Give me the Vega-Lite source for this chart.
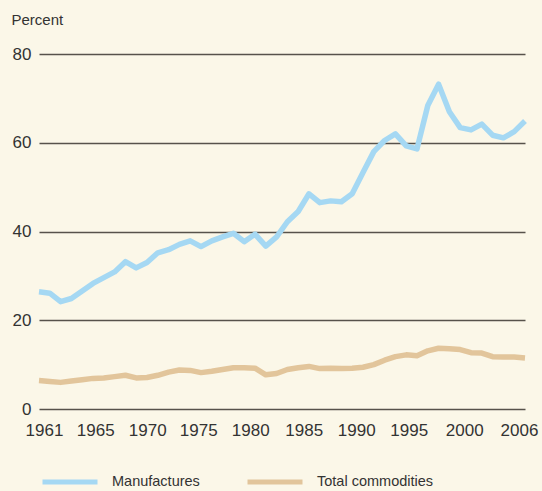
{
  "$schema": "https://vega.github.io/schema/vega-lite/v6.json",
  "width": 486,
  "height": 355,
  "autosize": {"type": "none"},
  "padding": {"left": 39, "top": 54, "right": 17, "bottom": 82},
  "background": "#FBF7E8",
  "config": {
    "view": {"stroke": null},
    "font": "Liberation Sans, sans-serif"
  },
  "data": {
    "values": [
      {"year": 1961, "series": "Manufactures", "value": 26.4},
      {"year": 1962, "series": "Manufactures", "value": 26.1},
      {"year": 1963, "series": "Manufactures", "value": 24.2},
      {"year": 1964, "series": "Manufactures", "value": 24.9},
      {"year": 1965, "series": "Manufactures", "value": 26.6},
      {"year": 1966, "series": "Manufactures", "value": 28.3},
      {"year": 1967, "series": "Manufactures", "value": 29.6},
      {"year": 1968, "series": "Manufactures", "value": 30.9},
      {"year": 1969, "series": "Manufactures", "value": 33.2},
      {"year": 1970, "series": "Manufactures", "value": 31.8},
      {"year": 1971, "series": "Manufactures", "value": 33.0},
      {"year": 1972, "series": "Manufactures", "value": 35.2},
      {"year": 1973, "series": "Manufactures", "value": 35.9},
      {"year": 1974, "series": "Manufactures", "value": 37.1},
      {"year": 1975, "series": "Manufactures", "value": 37.9},
      {"year": 1976, "series": "Manufactures", "value": 36.6},
      {"year": 1977, "series": "Manufactures", "value": 37.9},
      {"year": 1978, "series": "Manufactures", "value": 38.8},
      {"year": 1979, "series": "Manufactures", "value": 39.6},
      {"year": 1980, "series": "Manufactures", "value": 37.7},
      {"year": 1981, "series": "Manufactures", "value": 39.4},
      {"year": 1982, "series": "Manufactures", "value": 36.7},
      {"year": 1983, "series": "Manufactures", "value": 38.8},
      {"year": 1984, "series": "Manufactures", "value": 42.2},
      {"year": 1985, "series": "Manufactures", "value": 44.5},
      {"year": 1986, "series": "Manufactures", "value": 48.5},
      {"year": 1987, "series": "Manufactures", "value": 46.5},
      {"year": 1988, "series": "Manufactures", "value": 46.9},
      {"year": 1989, "series": "Manufactures", "value": 46.7},
      {"year": 1990, "series": "Manufactures", "value": 48.5},
      {"year": 1991, "series": "Manufactures", "value": 53.3},
      {"year": 1992, "series": "Manufactures", "value": 58.0},
      {"year": 1993, "series": "Manufactures", "value": 60.5},
      {"year": 1994, "series": "Manufactures", "value": 62.0},
      {"year": 1995, "series": "Manufactures", "value": 59.3},
      {"year": 1996, "series": "Manufactures", "value": 58.6},
      {"year": 1997, "series": "Manufactures", "value": 68.4},
      {"year": 1998, "series": "Manufactures", "value": 73.2},
      {"year": 1999, "series": "Manufactures", "value": 67.0},
      {"year": 2000, "series": "Manufactures", "value": 63.4},
      {"year": 2001, "series": "Manufactures", "value": 62.9},
      {"year": 2002, "series": "Manufactures", "value": 64.2},
      {"year": 2003, "series": "Manufactures", "value": 61.7},
      {"year": 2004, "series": "Manufactures", "value": 61.1},
      {"year": 2005, "series": "Manufactures", "value": 62.5},
      {"year": 2006, "series": "Manufactures", "value": 64.9},
      {"year": 1961, "series": "Total commodities", "value": 6.4},
      {"year": 1962, "series": "Total commodities", "value": 6.2},
      {"year": 1963, "series": "Total commodities", "value": 6.0},
      {"year": 1964, "series": "Total commodities", "value": 6.3},
      {"year": 1965, "series": "Total commodities", "value": 6.6},
      {"year": 1966, "series": "Total commodities", "value": 6.9},
      {"year": 1967, "series": "Total commodities", "value": 7.0},
      {"year": 1968, "series": "Total commodities", "value": 7.3},
      {"year": 1969, "series": "Total commodities", "value": 7.6},
      {"year": 1970, "series": "Total commodities", "value": 7.0},
      {"year": 1971, "series": "Total commodities", "value": 7.1},
      {"year": 1972, "series": "Total commodities", "value": 7.6},
      {"year": 1973, "series": "Total commodities", "value": 8.3},
      {"year": 1974, "series": "Total commodities", "value": 8.8},
      {"year": 1975, "series": "Total commodities", "value": 8.7},
      {"year": 1976, "series": "Total commodities", "value": 8.2},
      {"year": 1977, "series": "Total commodities", "value": 8.5},
      {"year": 1978, "series": "Total commodities", "value": 8.9},
      {"year": 1979, "series": "Total commodities", "value": 9.3},
      {"year": 1980, "series": "Total commodities", "value": 9.3},
      {"year": 1981, "series": "Total commodities", "value": 9.2},
      {"year": 1982, "series": "Total commodities", "value": 7.7},
      {"year": 1983, "series": "Total commodities", "value": 8.0},
      {"year": 1984, "series": "Total commodities", "value": 8.9},
      {"year": 1985, "series": "Total commodities", "value": 9.3},
      {"year": 1986, "series": "Total commodities", "value": 9.6},
      {"year": 1987, "series": "Total commodities", "value": 9.1},
      {"year": 1988, "series": "Total commodities", "value": 9.2},
      {"year": 1989, "series": "Total commodities", "value": 9.1},
      {"year": 1990, "series": "Total commodities", "value": 9.2},
      {"year": 1991, "series": "Total commodities", "value": 9.4},
      {"year": 1992, "series": "Total commodities", "value": 10.0},
      {"year": 1993, "series": "Total commodities", "value": 11.0},
      {"year": 1994, "series": "Total commodities", "value": 11.8},
      {"year": 1995, "series": "Total commodities", "value": 12.2},
      {"year": 1996, "series": "Total commodities", "value": 12.0},
      {"year": 1997, "series": "Total commodities", "value": 13.1},
      {"year": 1998, "series": "Total commodities", "value": 13.7},
      {"year": 1999, "series": "Total commodities", "value": 13.6},
      {"year": 2000, "series": "Total commodities", "value": 13.4},
      {"year": 2001, "series": "Total commodities", "value": 12.7},
      {"year": 2002, "series": "Total commodities", "value": 12.6},
      {"year": 2003, "series": "Total commodities", "value": 11.8},
      {"year": 2004, "series": "Total commodities", "value": 11.7},
      {"year": 2005, "series": "Total commodities", "value": 11.7},
      {"year": 2006, "series": "Total commodities", "value": 11.5}
    ]
  },
  "mark": {"type": "line", "strokeWidth": 5.5, "strokeJoin": "round", "strokeCap": "butt"},
  "encoding": {
    "x": {
      "field": "year",
      "type": "quantitative",
      "scale": {"domain": [1961, 2006], "nice": false, "zero": false},
      "axis": {
        "title": null,
        "values": [1961, 1965, 1970, 1975, 1980, 1985, 1990, 1995, 2000, 2006],
        "format": "d",
        "grid": false,
        "domain": false,
        "ticks": false,
        "labelFontSize": 17,
        "labelColor": "#333333",
        "labelBaseline": "top",
        "labelPadding": 13,
        "labelFlush": false,
        "labelOverlap": false,
        "labelOffset": {
          "condition": [
            {"test": "datum.value == 1961", "value": 5},
            {"test": "datum.value == 1965", "value": 13},
            {"test": "datum.value == 1970", "value": 11},
            {"test": "datum.value == 1975", "value": 8},
            {"test": "datum.value == 1980", "value": 6},
            {"test": "datum.value == 1985", "value": 5.5},
            {"test": "datum.value == 1990", "value": 4},
            {"test": "datum.value == 1995", "value": 2.5},
            {"test": "datum.value == 2000", "value": 4}
          ],
          "value": -6
        }
      }
    },
    "y": {
      "field": "value",
      "type": "quantitative",
      "scale": {"domain": [0, 80], "nice": false},
      "axis": {
        "values": [0, 20, 40, 60, 80],
        "title": "Percent",
        "titleAngle": 0,
        "titleX": -28,
        "titleY": -30,
        "titleAlign": "left",
        "titleBaseline": "alphabetic",
        "titleFontSize": 15,
        "titleFontWeight": "normal",
        "titleColor": "#333333",
        "grid": true,
        "gridColor": "#57524B",
        "gridWidth": 1.5,
        "domain": false,
        "ticks": false,
        "labelFontSize": 17,
        "labelColor": "#333333",
        "labelPadding": 8
      }
    },
    "color": {
      "field": "series",
      "type": "nominal",
      "scale": {"domain": ["Manufactures", "Total commodities"], "range": ["#A5D8F3", "#E2C59B"]},
      "legend": {
        "title": null,
        "orient": "none",
        "direction": "horizontal",
        "legendX": 1,
        "legendY": 398,
        "padding": 0,
        "symbolType": "stroke",
        "symbolSize": 3025,
        "symbolStrokeWidth": 5,
        "labelFontSize": 14.5,
        "labelColor": "#333333",
        "labelOffset": 12,
        "columnPadding": 37
      }
    }
  }
}
